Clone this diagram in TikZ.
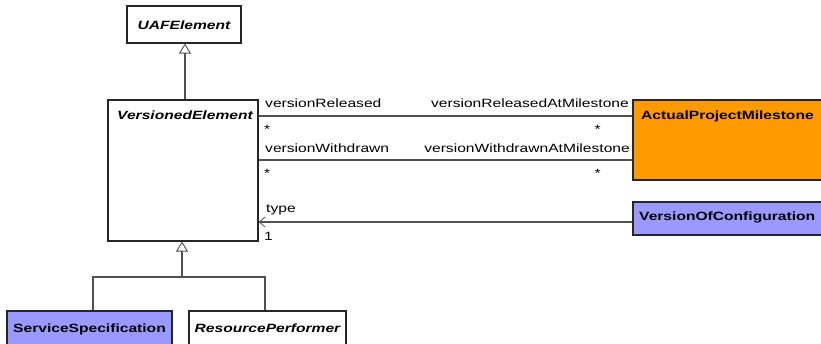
\documentclass[tikz,border=0pt]{standalone}
\usepackage{fontspec}
\setmainfont[FakeStretch=1.3]{Liberation Sans}
\usetikzlibrary{arrows.meta}
\definecolor{milestone}{HTML}{FF9900}
\definecolor{violetblue}{HTML}{9999FF}
\definecolor{linegray}{HTML}{505050}
\begin{document}
\begin{tikzpicture}[x=1pt,y=-1pt,
  every node/.style={font=\fontsize{12}{14}\selectfont},
  box/.style={draw=black!85,line width=1.1pt,inner sep=0pt},
  txt/.style={inner sep=0pt,anchor=base west},
  role/.style={inner sep=0pt,font=\fontsize{12}{14}\selectfont},
  conn/.style={draw=linegray,line width=1.1pt},
  gen/.style={conn,-{Triangle[open,length=10pt,width=12pt,fill=white,line width=0.9pt]}},
  nav/.style={conn,-{Straight Barb[length=6pt,width=10pt,line width=0.8pt]}}]
\useasboundingbox (0,0) rectangle (821,343);
\clip (0,0) rectangle (821,343);
\fill[white] (0,0) rectangle (821,343);
% boxes
\node[box,fill=white,minimum width=114pt,minimum height=37pt] (uaf) at (184,24.5) {};
\node[box,fill=white,minimum width=150pt,minimum height=141pt] (ve) at (183,170.5) {};
\node[box,fill=milestone,minimum width=197pt,minimum height=80pt] (apm) at (731.5,140) {};
\node[box,fill=violetblue,minimum width=197pt,minimum height=33pt] (voc) at (731.5,218.5) {};
\node[box,fill=violetblue,minimum width=165pt,minimum height=40pt] (ss) at (89.5,331) {};
\node[box,fill=white,minimum width=157pt,minimum height=40pt] (rp) at (267.5,331) {};
% names
\node[txt,font=\fontsize{12}{14}\selectfont\bfseries\itshape,anchor=base] (uaft) at (184,29) {UAFElement};
\node[txt,font=\fontsize{12}{14}\selectfont\bfseries\itshape,anchor=base] (vet) at (185,119) {VersionedElement};
\node[txt,font=\fontsize{12}{14}\selectfont\bfseries] (apmt) at (641,119) {ActualProjectMilestone};
\node[txt,font=\fontsize{12}{14}\selectfont\bfseries] (voct) at (639,220) {VersionOfConfiguration};
\node[txt,font=\fontsize{12}{14}\selectfont\bfseries,anchor=base] (sst) at (89.5,332) {ServiceSpecification};
\node[txt,font=\fontsize{12}{14}\selectfont\bfseries\itshape,anchor=base] (rpt) at (267.5,332) {ResourcePerformer};
% generalizations
\draw[gen] (ve.north -| 185,0) -- (uaf.south -| 185,0);
\coordinate (j) at (182,277);
\draw[conn] (ss.north -| 93,0) |- (j);
\draw[conn] (rp.north -| 265,0) |- (j);
\draw[gen] (j) -- (ve.south -| j);
% associations
\draw[conn] (ve.east |- 0,116) -- (apm.west |- 0,116);
\draw[conn] (ve.east |- 0,160) -- (apm.west |- 0,160);
\draw[nav] (voc.west |- 0,222) -- (ve.east |- 0,222);
% role labels
\node[role,anchor=base west] (r1) at (265,107) {versionReleased};
\node[role,anchor=base east] (r2) at (629,107) {versionReleasedAtMilestone};
\node[role,anchor=base west] (m1) at (264,133) {*};
\node[role,anchor=base east] (m2) at (601,133) {*};
\node[role,anchor=base west] (r3) at (265,152) {versionWithdrawn};
\node[role,anchor=base east] (r4) at (630,152) {versionWithdrawnAtMilestone};
\node[role,anchor=base west] (m3) at (264,177) {*};
\node[role,anchor=base east] (m4) at (601,177) {*};
\node[role,anchor=base west] (r5) at (266,212) {type};
\node[role,anchor=base west] (m5) at (264,240) {1};
\end{tikzpicture}
\end{document}
